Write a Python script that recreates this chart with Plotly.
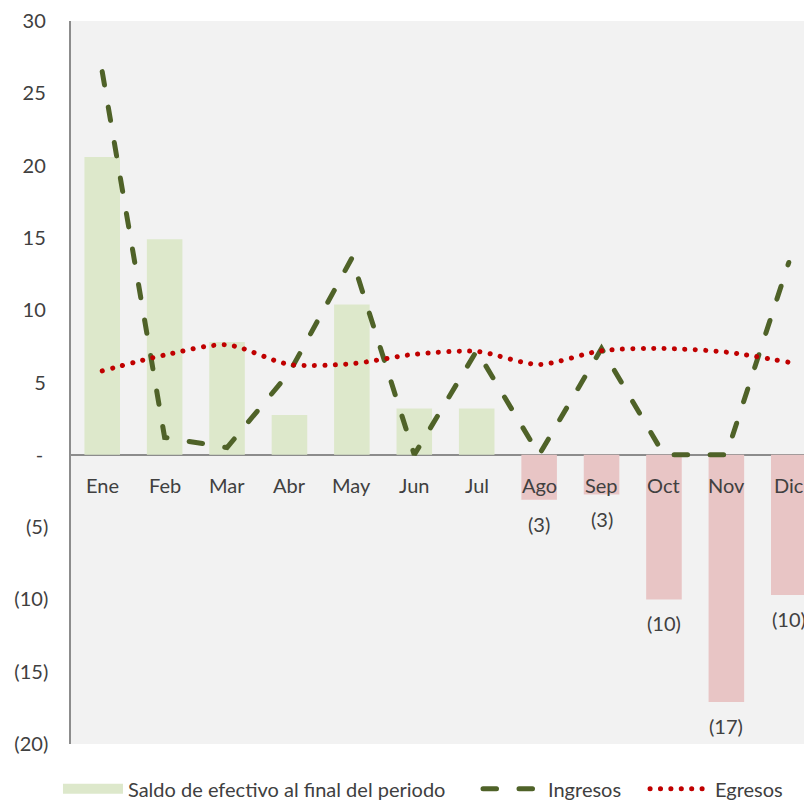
import plotly.graph_objects as go

months = ["Ene", "Feb", "Mar", "Abr", "May", "Jun", "Jul", "Ago", "Sep", "Oct", "Nov", "Dic"]
saldo = [20.6, 14.9, 7.8, 2.75, 10.4, 3.2, 3.2, -3.1, -2.75, -10.0, -17.1, -9.7]
ingresos = [26.5, 1.2, 0.5, 5.7, 13.6, 0.0, 7.2, 0.0, 7.35, 0.0, 0.0, 13.3]
egresos = [5.8, 6.9, 7.6, 6.25, 6.3, 6.95, 7.15, 6.25, 7.2, 7.35, 7.1, 6.4]
saldo_labels = ["", "", "", "", "", "", "", "(3)", "(3)", "(10)", "(17)", "(10)"]
y_ticks = [30, 25, 20, 15, 10, 5, 0, -5, -10, -15, -20]
y_ticktext = ["30\u2009", "25\u2009", "20\u2009", "15\u2009", "10\u2009", "5\u2009", "-\u2009\u2009",
              "(5)", "(10)", "(15)", "(20)"]

GREEN_BAR = "#dde8cb"
RED_BAR = "#e8c5c5"
FONT = "Lato"
TXT = "#404040"
FS = 20

x_idx = list(range(len(months)))
bar_colors = [GREEN_BAR if v >= 0 else RED_BAR for v in saldo]

fig = go.Figure()
fig.add_trace(go.Bar(
    x=x_idx, y=saldo, marker=dict(color=bar_colors, line=dict(width=0)),
    name="Saldo de efectivo al final del periodo", showlegend=False,
))
fig.add_trace(go.Scatter(
    x=[None], y=[None], mode="lines",
    line=dict(color=GREEN_BAR, width=14),
    name="Saldo de efectivo al final del periodo", legend="legend",
))
fig.add_trace(go.Scatter(
    x=x_idx, y=ingresos, mode="lines", name="Ingresos", legend="legend2",
    line=dict(color="#4f6228", width=5, dash="13.5px,22.5px"),
))
fig.add_trace(go.Scatter(
    x=x_idx, y=egresos, mode="lines", name="Egresos", legend="legend3",
    line=dict(color="#c00000", width=5, dash="0.1px,10.3px", shape="spline", smoothing=0.8),
))

annotations = []
for i, m in enumerate(months):
    annotations.append(dict(x=i, y=0, xref="x", yref="y", text=m, showarrow=False,
                            yanchor="top", yshift=-16, font=dict(size=FS, color=TXT, family=FONT)))
for i, (v, t) in enumerate(zip(saldo, saldo_labels)):
    if t:
        annotations.append(dict(x=i, y=v, xref="x", yref="y", text=t, showarrow=False,
                                yanchor="top", yshift=-10, font=dict(size=FS, color=TXT, family=FONT)))

legend_common = dict(orientation="h", xanchor="left", y=-0.035, yanchor="top",
                     itemwidth=60, font=dict(size=FS, color=TXT, family=FONT),
                     bgcolor="rgba(0,0,0,0)")

fig.update_layout(
    width=812, height=802,
    margin=dict(l=63, r=0, t=10, b=66),
    paper_bgcolor="white", plot_bgcolor="#f2f2f2",
    font=dict(family=FONT, size=FS, color=TXT),
    bargap=0.43,
    showlegend=True,
    legend=dict(x=-0.0174, **legend_common),
    legend2=dict(x=0.5434, **legend_common),
    legend3=dict(x=0.7664, **legend_common),
    annotations=annotations,
)
fig.update_xaxes(range=[-0.5, 11.5], showticklabels=False, showgrid=False, zeroline=False,
                 showline=False, fixedrange=True)
fig.update_yaxes(range=[-20, 30], tickvals=y_ticks, ticktext=y_ticktext, showgrid=False,
                 zeroline=True, zerolinecolor="#8c8c8c", zerolinewidth=1.5,
                 showline=True, linecolor="#8c8c8c", linewidth=1.5, ticks="",
                 ticklabeloverflow="allow",
                 ticklabelstandoff=17, tickfont=dict(size=FS, color=TXT, family=FONT))

post = """
var gd = document.getElementById('{plot_id}');
function roundCaps() {
  gd.querySelectorAll('path.js-line').forEach(function (p) {
    var w = parseFloat(p.style.strokeWidth || '0');
    if (w > 0 && w < 8) { p.style.strokeLinecap = 'round'; }
  });
}
roundCaps();
gd.on && gd.on('plotly_afterplot', roundCaps);
"""
fig.write_html("out.html", post_script=post)
